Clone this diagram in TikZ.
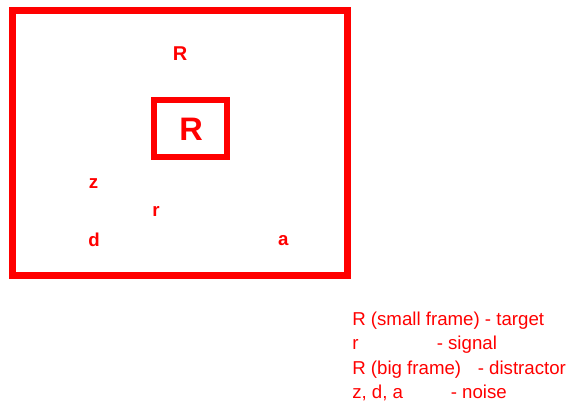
\documentclass[tikz,border=0pt]{standalone}
\usepackage{fontspec}
\setmainfont{Liberation Sans}
\definecolor{pured}{RGB}{255,0,0}
\begin{document}
\begin{tikzpicture}[x=0.75pt,y=-0.75pt,
  frame/.style={draw=pured,line join=miter},
  letter/.style={text=pured,font=\fontsize{14}{16}\selectfont\bfseries,anchor=base,inner sep=0pt},
  legend/.style={text=pured,font=\fontsize{14}{16}\selectfont,anchor=base west,inner sep=0pt}]
\useasboundingbox (0,0) rectangle (566,402);
% frames
\draw[frame,line width=5.25pt] (12.5,10.5) rectangle (347.5,275.5);
\draw[frame,line width=4.5pt] (154,100) rectangle (227,157);
% letters
\node[letter,font=\fontsize{15}{17}\selectfont\bfseries] (Rtop) at (180,61) {R};
\node[letter,font=\fontsize{24.4}{28}\selectfont\bfseries] (Rbig) at (191,140.7) {R};
\node[letter] (z) at (93.5,189) {z};
\node[letter] (r) at (156,216.7) {r};
\node[letter] (d) at (94,246) {d};
\node[letter] (a) at (283.3,245.7) {a};
% legend
\node[legend] (l1) at (352,325.7) {R (small frame) - target};
\node[legend] (l2a) at (352,349.5) {r};
\node[legend] (l2b) at (436.5,349.5) {- signal};
\node[legend] (l3a) at (352,374.3) {R (big frame)};
\node[legend] (l3b) at (477.5,374.3) {- distractor};
\node[legend] (l4a) at (352,398.5) {z, d, a};
\node[legend] (l4b) at (450.5,398.5) {- noise};
\end{tikzpicture}
\end{document}
